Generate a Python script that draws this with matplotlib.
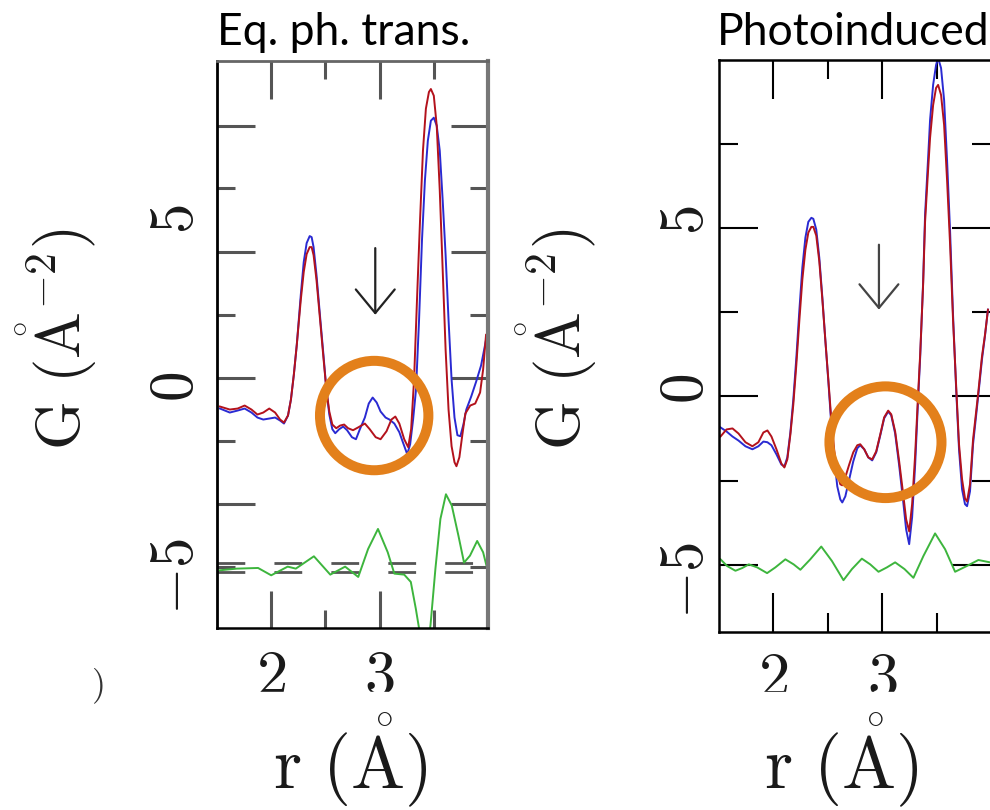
import matplotlib
matplotlib.use("Agg")
import matplotlib.pyplot as plt
from matplotlib.patches import Ellipse, Rectangle

plt.rcParams['mathtext.fontset'] = 'cm'

# ---- left panel: equilibrium phase transition ----
r_red_eq = [1.527, 1.618, 1.691, 1.755, 1.818, 1.873, 1.927, 1.982, 2.036, 2.082,
            2.118, 2.155, 2.182, 2.209, 2.236, 2.273, 2.300, 2.327, 2.355, 2.373,
            2.391, 2.418, 2.455, 2.482, 2.509, 2.536, 2.564, 2.600, 2.636, 2.673,
            2.709, 2.755, 2.800, 2.864, 2.909, 2.964, 3.009, 3.064, 3.109, 3.145,
            3.182, 3.227, 3.264, 3.291, 3.318, 3.345, 3.373, 3.400, 3.427, 3.455,
            3.473, 3.500, 3.527, 3.555, 3.582, 3.609, 3.636, 3.664, 3.691, 3.709,
            3.736, 3.764, 3.791, 3.836, 3.882, 3.927, 3.955, 3.982]
g_red_eq = [-0.36, -0.45, -0.42, -0.33, -0.45, -0.60, -0.54, -0.42, -0.54, -0.75,
            -0.84, -0.63, -0.15, 0.60, 1.49, 2.84, 3.67, 4.21, 4.42, 4.42,
            4.18, 3.43, 2.09, 1.10, 0.15, -0.51, -0.90, -1.01, -0.93, -0.90,
            -1.01, -1.07, -0.99, -0.87, -1.04, -1.28, -1.34, -1.10, -0.75, -0.66,
            -0.87, -1.34, -1.58, -1.04, 0.45, 2.84, 5.22, 7.31, 8.57, 9.07,
            9.16, 8.96, 8.06, 6.12, 3.73, 1.34, -0.45, -1.55, -2.03, -2.15,
            -1.88, -1.19, -0.57, -0.33, -0.27, 0.06, 0.75, 1.79]

r_blue_eq = [1.527, 1.618, 1.691, 1.755, 1.818, 1.873, 1.927, 1.982, 2.036, 2.082,
             2.118, 2.155, 2.182, 2.209, 2.236, 2.273, 2.300, 2.327, 2.355, 2.373,
             2.391, 2.418, 2.455, 2.482, 2.509, 2.536, 2.564, 2.591, 2.627, 2.664,
             2.700, 2.745, 2.782, 2.818, 2.864, 2.900, 2.936, 2.973, 3.009, 3.055,
             3.091, 3.136, 3.182, 3.218, 3.255, 3.282, 3.309, 3.336, 3.364, 3.391,
             3.418, 3.445, 3.473, 3.500, 3.527, 3.555, 3.582, 3.609, 3.636, 3.664,
             3.691, 3.718, 3.745, 3.773, 3.800, 3.845, 3.891, 3.936, 3.982]
g_blue_eq = [-0.42, -0.54, -0.48, -0.42, -0.54, -0.69, -0.75, -0.72, -0.69, -0.78,
             -0.87, -0.63, -0.15, 0.60, 1.49, 2.99, 3.97, 4.54, 4.75, 4.72,
             4.42, 3.58, 2.18, 1.19, 0.15, -0.60, -1.04, -1.16, -1.04, -0.96,
             -1.07, -1.28, -1.34, -1.04, -0.69, -0.27, -0.09, -0.24, -0.51, -0.69,
             -0.75, -0.87, -1.13, -1.46, -1.79, -1.49, -0.75, 0.15, 2.24, 4.63,
             6.42, 7.61, 8.21, 8.30, 8.06, 7.31, 5.82, 4.18, 2.24, 0.45,
             -0.69, -1.22, -1.25, -0.90, -0.45, -0.06, 0.39, 0.87, 1.64]

r_diff_eq = [1.525, 1.682, 1.879, 2.000, 2.152, 2.227, 2.394, 2.545, 2.682, 2.803,
             2.894, 2.985, 3.075, 3.136, 3.227, 3.288, 3.334, 3.364, 3.409, 3.470,
             3.515, 3.561, 3.612, 3.666, 3.727, 3.779, 3.834, 3.900, 3.955, 3.985]
g_diff_eq = [-5.27, -5.22, -5.20, -5.42, -5.16, -5.22, -4.85, -5.40, -5.16, -5.47,
             -4.63, -4.03, -4.73, -5.37, -5.40, -5.62, -6.42, -7.01, -8.50, -6.90,
             -5.22, -3.73, -2.99, -3.33, -4.23, -5.04, -4.83, -4.39, -4.73, -5.12]
dash_levels_eq = [-5.04, -5.31]

# ---- right panel: photoinduced ----
r_ph = [1.514, 1.569, 1.624, 1.679, 1.743, 1.807, 1.862, 1.908, 1.945, 1.982,
        2.028, 2.073, 2.101, 2.128, 2.156, 2.183, 2.211, 2.239, 2.266, 2.294,
        2.321, 2.349, 2.367, 2.394, 2.422, 2.450, 2.477, 2.505, 2.532, 2.560,
        2.587, 2.615, 2.633, 2.661, 2.697, 2.734, 2.771, 2.798, 2.835, 2.872,
        2.908, 2.945, 2.982, 3.018, 3.055, 3.083, 3.119, 3.156, 3.193, 3.220,
        3.248, 3.275, 3.303, 3.330, 3.349, 3.376, 3.394, 3.422, 3.440, 3.468,
        3.495, 3.514, 3.541, 3.569, 3.596, 3.624, 3.651, 3.679, 3.706, 3.734,
        3.761, 3.780, 3.807, 3.835, 3.881, 3.917, 3.945, 3.972]
g_red_ph = [-1.19, -0.98, -0.95, -1.10, -1.36, -1.48, -1.36, -1.07, -1.01, -1.19,
            -1.57, -1.99, -2.11, -1.87, -1.13, -0.24, 0.95, 2.28, 3.47, 4.36,
            4.87, 5.04, 5.04, 4.78, 4.01, 2.88, 1.69, 0.50, -0.68, -1.63,
            -2.28, -2.61, -2.64, -2.40, -2.02, -1.66, -1.45, -1.42, -1.57, -1.81,
            -1.87, -1.63, -1.13, -0.62, -0.42, -0.53, -1.04, -1.93, -2.91, -3.65,
            -4.01, -3.20, -1.72, 0.06, 1.25, 3.32, 5.19, 6.74, 7.69, 8.66,
            9.17, 9.26, 8.96, 8.07, 6.44, 4.51, 2.28, 0.36, -1.42, -2.46,
            -3.03, -3.12, -2.61, -1.28, 0.06, 1.19, 1.84, 2.58]
g_blue_ph = [-0.92, -1.04, -1.19, -1.31, -1.48, -1.57, -1.48, -1.34, -1.36, -1.45,
             -1.72, -2.02, -2.08, -1.81, -1.07, -0.09, 1.16, 2.58, 3.83, 4.72,
             5.19, 5.31, 5.28, 4.96, 4.12, 2.94, 1.69, 0.45, -0.83, -1.87,
             -2.67, -3.06, -3.15, -2.97, -2.46, -1.93, -1.54, -1.45, -1.57, -1.81,
             -1.90, -1.66, -1.16, -0.65, -0.45, -0.56, -1.10, -2.05, -3.12, -3.95,
             -4.39, -3.59, -2.02, -0.09, 1.16, 3.38, 5.40, 7.09, 8.22, 9.26,
             9.85, 10.06, 9.76, 8.81, 7.03, 4.90, 2.43, 0.27, -1.57, -2.76,
             -3.20, -3.26, -2.82, -1.42, -0.03, 1.10, 1.81, 2.58]

r_diff_ph = [1.514, 1.575, 1.651, 1.713, 1.774, 1.851, 1.942, 2.018, 2.110, 2.186,
             2.248, 2.339, 2.440, 2.538, 2.644, 2.722, 2.813, 2.890, 2.966, 3.043,
             3.119, 3.205, 3.287, 3.379, 3.486, 3.578, 3.670, 3.777, 3.884, 3.991]
g_diff_ph = [-4.84, -5.04, -5.18, -5.10, -4.99, -5.08, -5.25, -5.08, -4.84, -4.99,
             -5.15, -4.84, -4.46, -4.89, -5.46, -5.13, -4.82, -4.99, -5.21, -5.08,
             -4.93, -5.13, -5.39, -4.74, -4.07, -4.54, -5.21, -5.04, -4.86, -4.93]

titles = ["Eq. ph. trans.", "Photoinduced"]
ylabel = r'$\mathrm{G}\ (\mathring{\mathrm{A}}^{-2})$'
xlabel = r'$\mathrm{r}\ (\mathring{\mathrm{A}})$'

RED = '#b3121c'
BLUE = '#2a2ad2'
GREEN = '#3db53d'
ORANGE = '#e3801b'
INK = '#1a1a1a'

fig = plt.figure(figsize=(9.9, 8.1), dpi=100)
ax1 = fig.add_axes([217 / 990, 1 - 628 / 810, 271 / 990, 567 / 810])
ax2 = fig.add_axes([719 / 990, 1 - 632 / 810, 272 / 990, 572 / 810])

# curves
ax1.plot(r_blue_eq, g_blue_eq, color=BLUE, lw=1.4)
ax1.plot(r_red_eq, g_red_eq, color=RED, lw=1.4)
ax1.plot(r_diff_eq, g_diff_eq, color=GREEN, lw=1.4)
for lev in dash_levels_eq:
    ax1.axhline(lev, color='#555555', lw=2.0, ls=(0, (10, 10.5)), zorder=1)

ax2.plot(r_ph, g_blue_ph, color=BLUE, lw=1.4)
ax2.plot(r_ph, g_red_ph, color=RED, lw=1.4)
ax2.plot(r_diff_ph, g_diff_ph, color=GREEN, lw=1.4)

for ax in (ax1, ax2):
    ax.set_xlim(1.5, 4.0)
    ax.set_ylim(-7, 10)
    ax.set_xticks([2, 3])
    ax.set_xticks([2.5, 3.5], minor=True)
    ax.tick_params(which='both', direction='in', top=True, right=True, labelcolor=INK)

# left panel: tick marks do not sit on the label values in the original
ax1.set_yticks([8.06, 4.27, 0.51, -3.28])
ax1.set_yticks([6.18, 2.39, -1.40, -5.16], minor=True)
ax1.set_yticklabels([])
ax1.set_xticklabels(['$2$', '$3$'])
ax1.tick_params(which='major', length=27, width=2.2, color='#555555')
ax1.tick_params(which='minor', length=13, width=2.2, color='#555555')
ax1.tick_params(axis='x', labelsize=45, pad=14)
ax1.spines['left'].set_linewidth(2)
ax1.spines['bottom'].set_linewidth(1.8)
ax1.spines['top'].set_color('#666666')
ax1.spines['top'].set_linewidth(2)
ax1.spines['right'].set_color('#777777')
ax1.spines['right'].set_linewidth(3)

sec = ax1.secondary_yaxis('left')
sec.set_yticks([-5, 0, 5], labels=['$-5$', '$0$', '$5$'])
sec.tick_params(length=0, pad=8, labelsize=44, labelrotation=90, labelcolor=INK)
sec.spines['left'].set_visible(False)

ax2.set_yticks([-5, 0, 5])
ax2.set_yticks([-2.5, 2.5, 7.5], minor=True)
ax2.set_yticklabels(['$-5$', '$0$', '$5$'])
ax2.set_xticklabels(['$2$', '$3$'])
ax2.tick_params(which='major', length=28, width=1.5, color='black')
ax2.tick_params(which='minor', length=14, width=1.5, color='black')
ax2.tick_params(axis='y', labelsize=44, pad=2, labelrotation=90)
ax2.tick_params(axis='x', labelsize=45, pad=12)
for s in ax2.spines.values():
    s.set_linewidth(1.8)

# arrows
ax1.annotate('', xy=(2.96, 2.39), xytext=(2.96, 4.39),
             arrowprops=dict(arrowstyle='->,head_length=0.85,head_width=0.7', lw=1.6,
                             color='#222222', shrinkA=0, shrinkB=0, mutation_scale=20))
ax2.annotate('', xy=(2.97, 2.58), xytext=(2.97, 4.51),
             arrowprops=dict(arrowstyle='->,head_length=0.85,head_width=0.7', lw=1.6,
                             color='#444444', shrinkA=0, shrinkB=0, mutation_scale=20))

# orange highlight circles
ax1.add_patch(Ellipse((2.95, -0.63), 1.0, 3.28, fill=False, ec=ORANGE, lw=7.2,
                      clip_on=False, zorder=5))
ax2.add_patch(Ellipse((3.03, -1.36), 1.03, 3.32, fill=False, ec=ORANGE, lw=7.2,
                      clip_on=False, zorder=5))

# axis labels
for xpix in (57, 557):
    fig.text(xpix / 990, 1 - 339 / 810, ylabel, rotation=90, rotation_mode='anchor',
             ha='center', va='center', fontsize=45, color=INK)
for xpix in (350, 841):
    fig.text(xpix / 990, 1 - 788 / 810, xlabel, ha='center', va='baseline',
             fontsize=52, color=INK)

# stray fragment at the lower left of the source image
fig.text(97 / 990, 1 - 686 / 810, '$)$', ha='center', va='center', fontsize=26,
         color='#333333')

# titles
fig.text(217 / 990, 1 - 45 / 810, titles[0], fontsize=32, family='Lato', ha='left', va='baseline')
fig.text(717 / 990, 1 - 45 / 810, titles[1], fontsize=32, family='Lato', ha='left', va='baseline')

# the source image is cropped through the bottom of the tick digits
fig.add_artist(Rectangle((150 / 990, 1 - 708 / 810), 840 / 990, 16 / 810,
                         transform=fig.transFigure, color='white', zorder=10))

fig.savefig('out.png', dpi=100)
